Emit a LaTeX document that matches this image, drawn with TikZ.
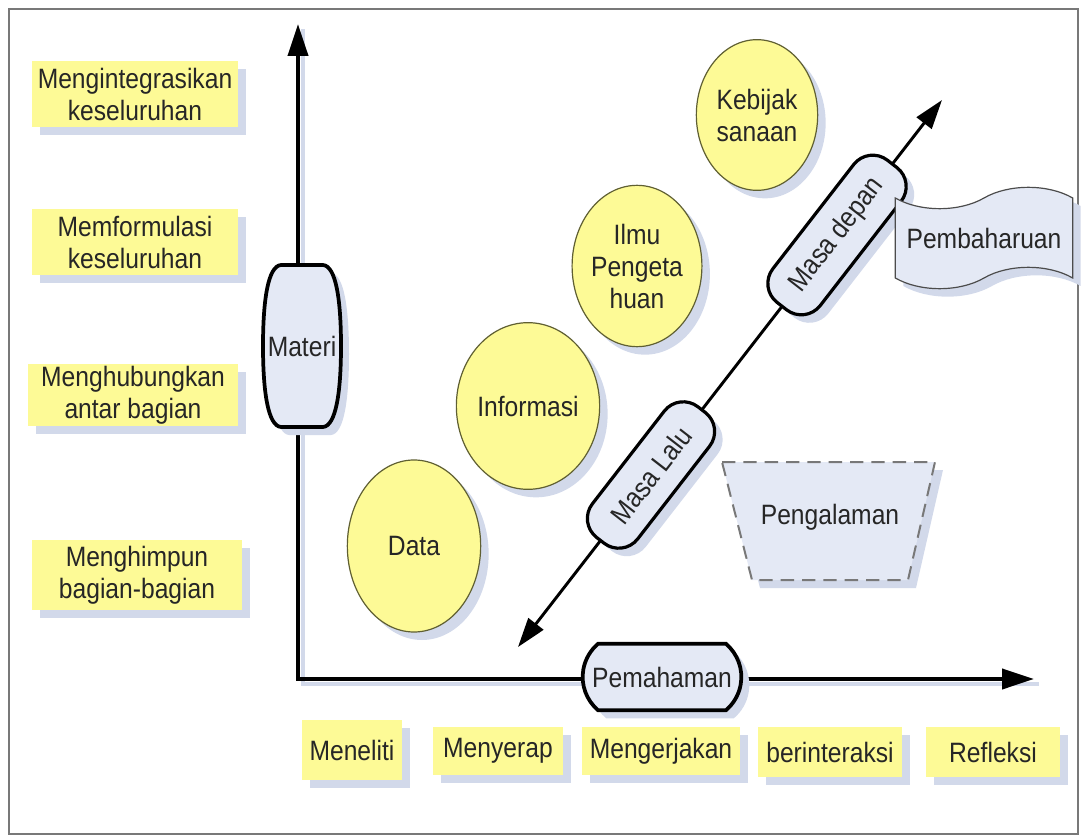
\documentclass[tikz,border=0pt]{standalone}
\usepackage{fontspec}
\setmainfont{Liberation Sans}[FakeStretch=0.88]
\usetikzlibrary{arrows.meta,shapes.geometric,shapes.misc,shapes.symbols,shadows}

\definecolor{tagyellow}{RGB}{253,250,150}
\definecolor{paleblue}{RGB}{228,233,245}
\definecolor{shadowblue}{RGB}{210,217,234}
\definecolor{inkgray}{RGB}{38,38,38}
\definecolor{edgeolive}{RGB}{95,95,50}
\definecolor{framegray}{RGB}{120,120,120}

\tikzset{every picture/.style={line width=0.75pt}}
\tikzset{
  bluedrop/.style={drop shadow={shadow xshift=6pt,shadow yshift=-6pt,fill=shadowblue,opacity=1}},
  tagbox/.style={fill=tagyellow,bluedrop,inner sep=0pt,align=center,text=inkgray},
  idea/.style={ellipse,draw=edgeolive,line width=0.9pt,fill=tagyellow,bluedrop,inner sep=0pt,align=center,text=inkgray},
  axisbox/.style={rounded rectangle,draw=black,line width=2.8pt,fill=paleblue,bluedrop,inner sep=0pt,text=inkgray},
  barrel/.style={draw=black,line width=2.8pt,fill=paleblue,bluedrop},
  bucket/.style={draw=framegray,line width=1.5pt,dash pattern=on 10pt off 6pt,fill=paleblue,bluedrop},
  timebox/.style={rectangle,rounded corners=18pt,draw=black,line width=2.4pt,fill=paleblue,bluedrop,rotate=52.2,inner sep=0pt,text=inkgray},
  axisline/.style={line width=3pt,line join=miter},
  axisshade/.style={line width=3pt,draw=shadowblue,transform canvas={shift={(4pt,-4pt)}}},
  bigtip/.tip={Triangle[length=24pt,width=15pt]},
  midtip/.tip={Triangle[length=22pt,width=14pt]},
}

\begin{document}
\begin{tikzpicture}[x=0.75pt,y=0.75pt,yscale=-1,xscale=1]
\fontsize{21pt}{24pt}\selectfont
\useasboundingbox (0,0) rectangle (1086,838);

\draw [draw=framegray,line width=1pt] (9,9) rectangle (1078,834) ;

% axes
\coordinate (origin) at (298,679);
\coordinate (ytip) at (298,24);
\coordinate (xtip) at (1034,679);
\draw [axisshade] (ytip) -- (origin) -- (xtip) ;
\draw [axisline,bigtip-bigtip] (ytip) -- (origin) -- (xtip) ;

% time line
\coordinate (past) at (518,647);
\coordinate (future) at (942,100);
\draw [line width=2.2pt,midtip-midtip] (past) -- (future) ;

% left labels
\node [tagbox,minimum width=155pt,minimum height=50pt] (integrasi) at (135,94) {Mengintegrasikan\\keseluruhan};
\node [tagbox,minimum width=155pt,minimum height=50pt] (formulasi) at (135,242) {Memformulasi\\keseluruhan};
\node [tagbox,minimum width=157pt,minimum height=46pt] (hubung) at (133,395) {Menghubungkan\\antar bagian};
\node [tagbox,minimum width=157pt,minimum height=52pt] (himpun) at (137,575) {Menghimpun\\bagian-bagian};

% bottom labels
\node [tagbox,minimum width=75pt,minimum height=45pt] (teliti) at (352,750) {Meneliti};
\node [tagbox,minimum width=97pt,minimum height=36pt] (serap) at (498,751) {Menyerap};
\node [tagbox,minimum width=118pt,minimum height=36pt] (kerja) at (661,751) {Mengerjakan};
\node [tagbox,minimum width=108pt,minimum height=37pt] (interaksi) at (830,752) {berinteraksi};
\node [tagbox,minimum width=100pt,minimum height=37pt] (refleksi) at (993,752) {Refleksi};

% ellipses
\node [idea,minimum width=100pt,minimum height=129pt] (data) at (414,546) {Data};
\node [idea,minimum width=95pt,minimum height=125pt] (info) at (528,406) {Informasi};
\node [idea,minimum width=89pt,minimum height=121pt] (ilmu) at (637,266) {Ilmu\\Pengeta\\huan};
\node [idea,minimum width=91pt,minimum height=113pt] (bijak) at (757,115) {Kebijak\\sanaan};

% axis boxes
\draw [barrel] (281,265) -- (323,265) .. controls (336,266) and (341,300) .. (341,346)
  .. controls (341,392) and (336,426) .. (323,427) -- (281,427)
  .. controls (268,426) and (263,392) .. (263,346) .. controls (263,300) and (268,266) .. (281,265) -- cycle ;
\node [inner sep=0pt,text=inkgray] (materi) at (302,346) {Materi};
\node [axisbox,rounded rectangle arc length=100,minimum width=119pt,minimum height=50pt] (paham) at (662,677) {Pemahaman};

% time boxes
\node [timebox,minimum width=124pt,minimum height=43pt] (lalu) at (651,475) {Masa Lalu};
\node [timebox,minimum width=135pt,minimum height=45pt] (depan) at (837,235) {Masa depan};

% side shapes
\draw [bucket] (722,462) -- (935,462) -- (908,580) -- (752,580) -- cycle ;
\node [inner sep=0pt,text=inkgray] (alam) at (830,517) {Pengalaman};
\node [tape,tape bend height=16pt,minimum width=133pt,minimum height=76pt,draw=black!70,
       line width=0.9pt,fill=paleblue,bluedrop,inner sep=0pt,text=inkgray] (baru) at (984,238) {Pembaharuan};

\end{tikzpicture}
\end{document}
